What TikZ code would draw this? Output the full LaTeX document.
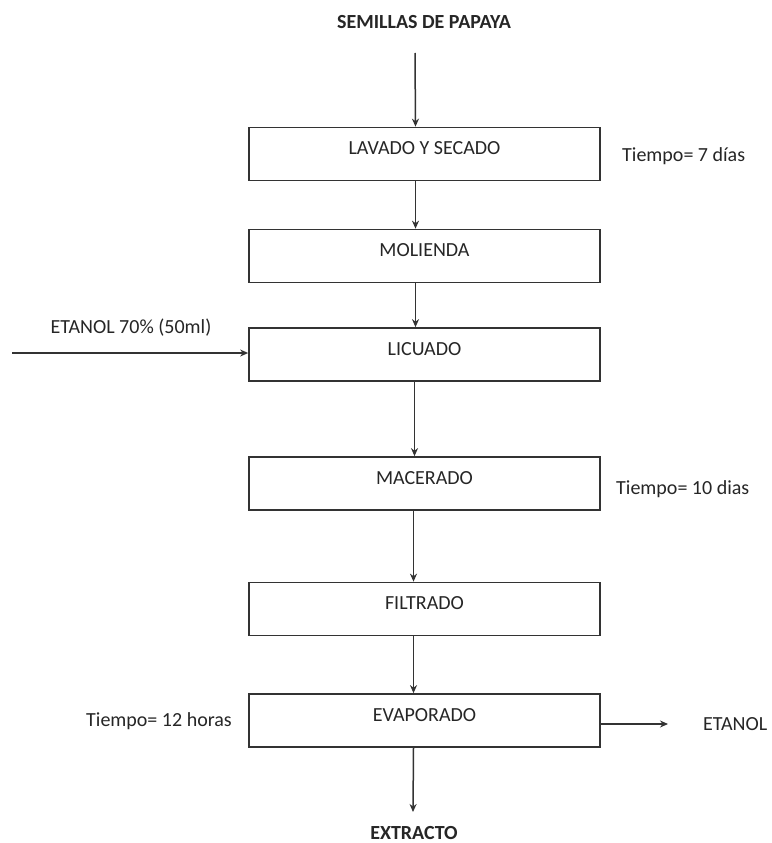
\documentclass[tikz,border=0pt]{standalone}
\usepackage{fontspec}
\setmainfont{Carlito}
\usetikzlibrary{arrows.meta}
\begin{document}
\begin{tikzpicture}[x=1pt,y=-1pt,
  procbox/.style={draw=black!80, line width=1.7pt, minimum width=351pt, minimum height=53pt,
    inner sep=0pt, font=\fontsize{20}{24}\selectfont, text=black!85, text height=0.7em, text depth=0.54em},
  lbl/.style={font=\fontsize{20}{24}\selectfont, text=black!85, inner sep=0pt},
  ttl/.style={font=\fontsize{20}{24}\selectfont\bfseries, text=black!85, inner sep=0pt},
  flow/.style={draw=black!80, line width=1.5pt, -{Stealth[length=8pt,width=7pt]}}]
\useasboundingbox[fill=white] (0,0) rectangle (771,843);
% title and end product
\node[ttl] (src) at (424,22) {SEMILLAS DE PAPAYA};
\node[ttl, anchor=base] (ext) at (414,839) {EXTRACTO};
\coordinate (srcend) at (415,53);
\coordinate (extend) at (413,812);
% process boxes
\node[procbox] (lav) at (424.5,154) {LAVADO Y SECADO};
\node[procbox] (mol) at (424.5,256) {MOLIENDA};
\node[procbox] (lic) at (424.5,354.5) {LICUADO};
\node[procbox] (mac) at (424.5,483.5) {MACERADO};
\node[procbox] (fil) at (424.5,609) {FILTRADO};
\node[procbox] (eva) at (424.5,720.5) {EVAPORADO};
% side labels
\node[lbl, anchor=west] (t7) at (622,156) {Tiempo= 7 días};
\node[lbl, anchor=west] (t10) at (616,489) {Tiempo= 10 dias};
\node[lbl, anchor=east] (t12) at (232,721) {Tiempo= 12 horas};
\node[lbl] (etin) at (131,328) {ETANOL 70\% (50ml)};
\node[lbl, anchor=west] (etout) at (703,724) {ETANOL};
\coordinate (inStart) at (12,353);
\coordinate (outEnd) at (668,724);
% vertical flow
\draw[flow] (srcend) -- ([xshift=-9pt]lav.north);
\draw[flow] ([xshift=-9pt]lav.south) -- ([xshift=-9pt]mol.north);
\draw[flow] ([xshift=-9pt]mol.south) -- ([xshift=-9pt]lic.north);
\draw[flow] ([xshift=-10pt]lic.south) -- ([xshift=-10pt]mac.north);
\draw[flow] ([xshift=-11pt]mac.south) -- ([xshift=-11pt]fil.north);
\draw[flow] ([xshift=-11pt]fil.south) -- ([xshift=-11pt]eva.north);
\draw[flow] ([xshift=-11pt]eva.south) -- (extend);
% side flows
\draw[flow] (inStart) -- (inStart -| lic.west);
\draw[flow] (outEnd -| eva.east) -- (outEnd);
\end{tikzpicture}
\end{document}
